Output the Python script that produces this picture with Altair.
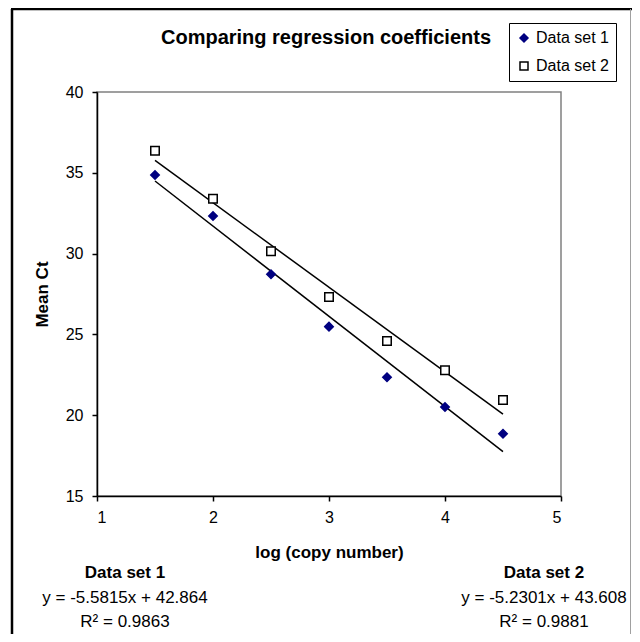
import altair as alt
import pandas as pd

# ---- data ----
log_copies = [1.5, 2.0, 2.5, 3.0, 3.5, 4.0, 4.5]
set1_ct = [34.86, 32.33, 28.72, 25.48, 22.35, 20.51, 18.85]
set2_ct = [36.37, 33.40, 30.14, 27.31, 24.59, 22.78, 20.94]
series_names = ["Data set 1", "Data set 2"]
slopes = [-5.5815, -5.2301]
intercepts = [42.864, 43.608]
r_squared = [0.9863, 0.9881]
fit_range = [1.5, 4.5]
x_ticks = [1, 2, 3, 4, 5]
y_ticks = [15, 20, 25, 30, 35, 40]

FONT = "Arial, Liberation Sans, Helvetica, sans-serif"
W, H = 464, 404

pts = pd.DataFrame(
    [{"x": x, "y": y, "series": series_names[0]} for x, y in zip(log_copies, set1_ct)]
    + [{"x": x, "y": y, "series": series_names[1]} for x, y in zip(log_copies, set2_ct)]
)

fit = pd.DataFrame(
    [{"x": x, "y": m * x + b, "series": s}
     for s, m, b in zip(series_names, slopes, intercepts) for x in fit_range]
)

xs = alt.Scale(domain=[1, 5], nice=False, zero=False)
ys = alt.Scale(domain=[15, 40], nice=False, zero=False)

x_enc = alt.X("x:Q", scale=xs, axis=alt.Axis(
    values=x_ticks, format="d", title="log (copy number)", grid=False,
    titleX=W / 2, titleY=56, titleBaseline="middle", titleAlign="center",
    labelPadding=8))
y_enc = alt.Y("y:Q", scale=ys, axis=alt.Axis(
    values=y_ticks, format="d", title="Mean Ct", grid=False,
    titleX=-55, titleY=H / 2, titleBaseline="middle", titleAlign="center",
    titleAngle=270, labelPadding=9))

lines = alt.Chart(fit).mark_line(strokeWidth=1.5, color="black").encode(
    x=x_enc, y=y_enc, detail="series:N")

points = alt.Chart(pts).mark_point(opacity=1, strokeWidth=1.5, size=72).encode(
    x=alt.X("x:Q", scale=xs),
    y=alt.Y("y:Q", scale=ys),
    shape=alt.Shape("series:N", scale=alt.Scale(domain=series_names, range=["diamond", "square"]),
                    legend=alt.Legend(title=None)),
    fill=alt.Fill("series:N", scale=alt.Scale(domain=series_names, range=["#000080", "white"]),
                  legend=alt.Legend(title=None)),
    stroke=alt.Stroke("series:N", scale=alt.Scale(domain=series_names, range=["#000080", "black"]),
                      legend=alt.Legend(title=None)),
)

# text outside plot area
title_df = pd.DataFrame({"t": ["Comparing regression coefficients"]})
title = alt.Chart(title_df).mark_text(font=FONT, fontSize=20, fontWeight="bold",
                                      align="center", baseline="middle").encode(
    text="t:N", x=alt.value(229), y=alt.value(-54))

eq_labels = [f"y = {m}x + {b}" for m, b in zip(slopes, intercepts)]
r_labels = [f"R² = {r}" for r in r_squared]
centers = [28, 447]
head_df = pd.DataFrame({"t": series_names, "cx": centers})
eq_df = pd.DataFrame({"t": eq_labels, "cx": centers})
r_df = pd.DataFrame({"t": r_labels, "cx": centers})

heads = alt.Chart(head_df).mark_text(font=FONT, fontSize=17, fontWeight="bold",
                                     align="center", baseline="middle").encode(
    text="t:N", x=alt.X("cx:Q", scale=None), y=alt.value(481))
eqs = alt.Chart(eq_df).mark_text(font=FONT, fontSize=17,
                                 align="center", baseline="middle").encode(
    text="t:N", x=alt.X("cx:Q", scale=None), y=alt.value(506))
rs = alt.Chart(r_df).mark_text(font=FONT, fontSize=17,
                               align="center", baseline="middle").encode(
    text="t:N", x=alt.X("cx:Q", scale=None), y=alt.value(530))

# outer frame
frame_left = alt.Chart(title_df).mark_rule(color="black", strokeWidth=2.5).encode(
    x=alt.value(-85), y=alt.value(-83), y2=alt.value(H + 150))
frame_top = alt.Chart(title_df).mark_rule(color="black", strokeWidth=2.5).encode(
    x=alt.value(-86), x2=alt.value(540), y=alt.value(-83))
frame_right = alt.Chart(title_df).mark_rule(color="#a0a0a0", strokeWidth=1).encode(
    x=alt.value(533.5), y=alt.value(-83), y2=alt.value(H + 150))

chart = alt.layer(
    frame_left, frame_top, frame_right, lines, points, title, heads, eqs, rs
).properties(
    width=W, height=H,
    autosize=alt.AutoSizeParams(type="none"),
    padding={"left": 89, "top": 84, "right": 71, "bottom": 138},
    background="white",
).configure_view(
    stroke="#808080", strokeWidth=1.5
).configure_axis(
    domainColor="black", domainWidth=1.5, tickColor="black", tickWidth=1.5, tickSize=5,
    labelFont=FONT, labelFontSize=16, labelColor="black",
    titleFont=FONT, titleFontSize=17, titleFontWeight="bold", titleColor="black",
).configure_legend(
    orient="none", legendX=412, legendY=-69, strokeColor="black", strokeWidth=1,
    fillColor="white", padding=7, rowPadding=12,
    labelFont=FONT, labelFontSize=16, labelColor="black", labelOffset=4,
    symbolSize=64, symbolStrokeWidth=1.5,
)

chart.save("out.html", embed_options={"renderer": "svg", "actions": False})
